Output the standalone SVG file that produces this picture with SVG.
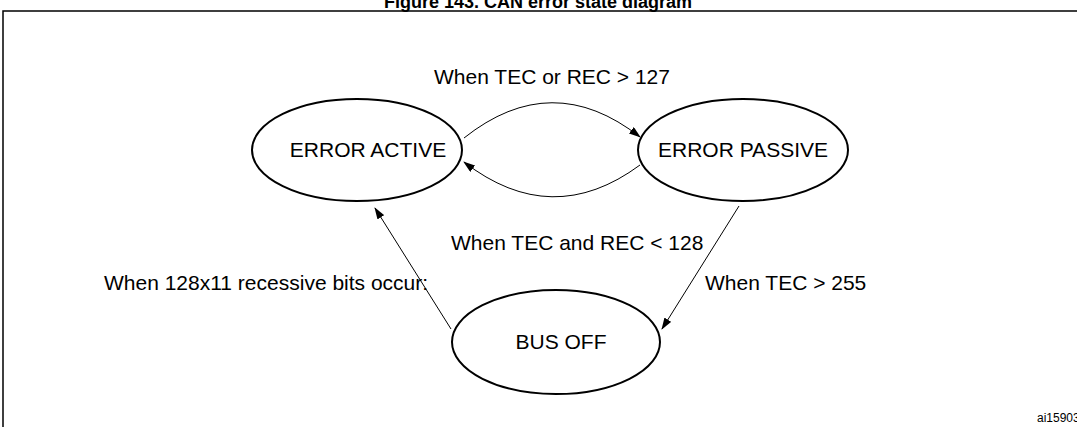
<svg xmlns="http://www.w3.org/2000/svg" width="1077" height="427" viewBox="0 0 1077 427">
<style>
text{font-family:"Liberation Sans",Arial,sans-serif;fill:#000}
.l{font-size:21px}
.n ellipse{fill:#fff;stroke:#000;stroke-width:2}
#conn path{fill:none;stroke:#000;stroke-width:1;marker-end:url(#ah)}
</style>
<defs><marker id="ah" markerWidth="12" markerHeight="8" refX="11" refY="4" orient="auto" markerUnits="userSpaceOnUse"><path d="M0,0 L12,4 L0,8 Z" fill="#000"/></marker></defs>
<rect width="1077" height="427" fill="#fff"/>
<text x="538" y="8" text-anchor="middle" font-weight="bold" font-size="18">Figure 143. CAN error state diagram</text>
<rect x="3" y="11" width="1090" height="430" fill="none" stroke="#000" stroke-width="1.5"/>
<g id="conn">
<path d="M464,138 Q552,68 640,137"/>
<path d="M640,165 Q552,230 464,162"/>
<path d="M451,329 L375,208"/>
<path d="M739,206 L662,329"/>
</g>
<g id="active" class="n"><ellipse cx="357" cy="150" rx="105" ry="51"/><text class="l" x="368" y="157" text-anchor="middle">ERROR ACTIVE</text></g>
<g id="passive" class="n"><ellipse cx="743" cy="150" rx="105" ry="51"/><text class="l" x="743" y="157" text-anchor="middle">ERROR PASSIVE</text></g>
<g id="busoff" class="n"><ellipse cx="556" cy="342" rx="104" ry="52"/><text class="l" x="561" y="349" text-anchor="middle">BUS OFF</text></g>
<text class="l" x="552" y="84" text-anchor="middle">When TEC or REC &gt; 127</text>
<text class="l" x="451" y="250">When TEC and REC &lt; 128</text>
<text class="l" x="104" y="290">When 128x11 recessive bits occur:</text>
<text class="l" x="705" y="290">When TEC &gt; 255</text>
<text x="1037" y="422" font-size="12">ai15903</text>
</svg>
